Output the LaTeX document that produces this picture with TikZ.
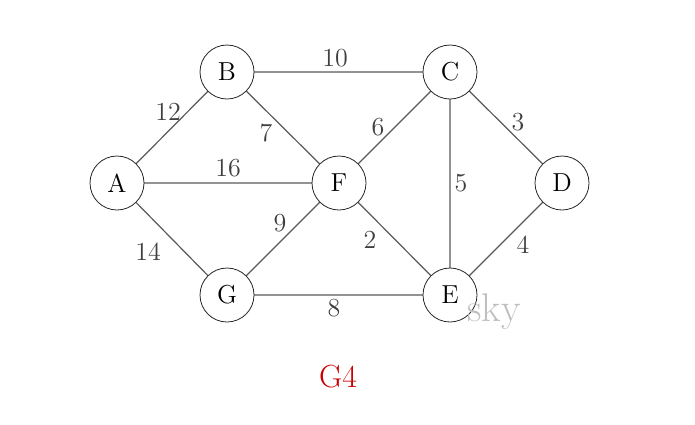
\documentclass[tikz,border=0pt]{standalone}
\usepackage{tikz}
\usetikzlibrary{calc}

\begin{document}
\begin{tikzpicture}[x=0.5pt,y=-0.5pt,
		vertex/.style={draw=black!85,circle,minimum size=27pt,inner sep=0pt,font=\fontsize{13}{13}\selectfont,fill=white},
		wt/.style={font=\fontsize{13}{13}\selectfont,text=black!75},
		link/.style={draw=black!65,line width=.6pt}]
		\path[use as bounding box] (0,0) rectangle (695,424);
		\coordinate (A0) at (117,183);
		\coordinate (B0) at (227,72);
		\coordinate (C0) at (450,72);
		\coordinate (D0) at (562,183);
		\coordinate (F0) at (339,183);
		\coordinate (G0) at (227,295);
		\coordinate (E0) at (450,295);

		% edges first, vertices on top
		\path[link] (A0) -- (B0) (A0) -- (F0) (A0) -- (G0);
		\path[link] (B0) -- (C0) (B0) -- (F0);
		\path[link] (C0) -- (F0) (C0) -- (D0) (C0) -- (E0);
		\path[link] (D0) -- (E0) (F0) -- (E0) (F0) -- (G0) (G0) -- (E0);

		\node[vertex] (A) at (A0){A};
		\node[vertex] (B) at (B0){B};
		\node[vertex] (C) at (C0){C};
		\node[vertex] (D) at (D0){D};
		\node[vertex] (F) at (F0){F};
		\node[vertex] (G) at (G0){G};
		\node[vertex] (E) at (E0){E};

		\node[wt] (wBC) at (335,58){10};
		\node[wt] (wAB) at (168,112){12};
		\node[wt] (wBF) at (266,133){7};
		\node[wt] (wCF) at (378,127){6};
		\node[wt] (wCD) at (518,122){3};
		\node[wt] (wAF) at (228,168){16};
		\node[wt] (wCE) at (461,183){5};
		\node[wt] (wFG) at (280,223){9};
		\node[wt] (wFE) at (370,240){2};
		\node[wt] (wAG) at (148,252){14};
		\node[wt] (wDE) at (523,245){4};
		\node[wt] (wGE) at (334,308){8};

		\node[font=\fontsize{20}{20}\selectfont,text=black!25] (sky) at (494,312){sky};
		\node[font=\fontsize{16}{16}\selectfont,text=red!80!black] (title) at (338,377){G4};
	\end{tikzpicture}
\end{document}
